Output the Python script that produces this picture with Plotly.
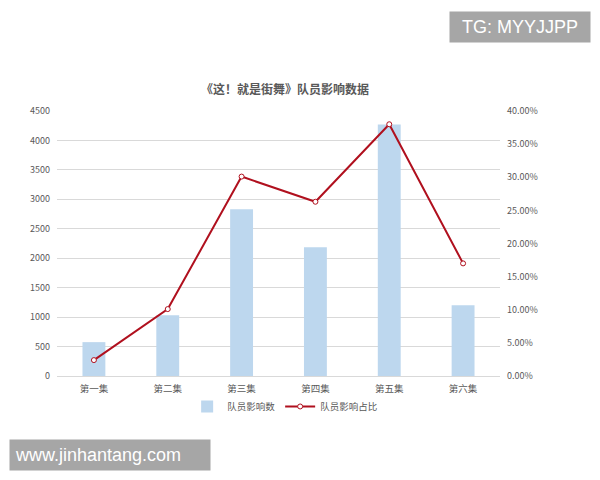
import plotly.graph_objects as go

categories = ["第一集", "第二集", "第三集", "第四集", "第五集", "第六集"]
influence_counts = [575, 1030, 2830, 2185, 4270, 1200]
influence_share = [0.024, 0.101, 0.301, 0.263, 0.380, 0.170]
left_ticks = [0, 500, 1000, 1500, 2000, 2500, 3000, 3500, 4000, 4500]
right_ticks = [0, 0.05, 0.10, 0.15, 0.20, 0.25, 0.30, 0.35, 0.40]

FONT = "Noto Sans CJK SC"
TXT = "#595959"

fig = go.Figure()
fig.add_trace(go.Bar(
    x=categories, y=influence_counts, name="队员影响数",
    marker=dict(color="#BDD7EE", line=dict(width=0)),
    yaxis="y",
))
fig.add_trace(go.Scatter(
    x=categories, y=influence_share, name="队员影响占比",
    mode="lines+markers",
    line=dict(color="#B0101E", width=2),
    marker=dict(symbol="circle", size=5, color="white",
                line=dict(color="#B0101E", width=1)),
    yaxis="y2",
))

fig.update_layout(
    width=592, height=472,
    paper_bgcolor="white", plot_bgcolor="white",
    margin=dict(l=49, r=100, t=103, b=104),
    bargap=0.69,
    font=dict(family=FONT, color=TXT, size=9),
    title=dict(text="《这！就是街舞》队员影响数据",
               font=dict(family=FONT, size=12, color=TXT, weight="bold"),
               x=277 / 592, xanchor="center", y=1 - 82 / 472, yanchor="middle",
               xref="container", yref="container"),
    xaxis=dict(showgrid=False, showline=True, linecolor="#D9D9D9", linewidth=1,
               ticks="", tickfont=dict(size=9.5, color=TXT), fixedrange=True,
               ticklabelstandoff=4),
    yaxis=dict(range=[0, 4500], tickvals=left_ticks, showgrid=True,
               gridcolor="#D9D9D9", gridwidth=1, zeroline=False,
               showline=False, ticks="", tickfont=dict(size=9, color=TXT),
               ticklabelstandoff=6),
    yaxis2=dict(range=[0, 0.40], tickvals=right_ticks, tickformat=".2%",
                overlaying="y", side="right", showgrid=False, zeroline=False,
                showline=False, ticks="", tickfont=dict(size=9, color=TXT),
                ticklabelstandoff=6),
    legend=dict(orientation="h", x=0.515, xanchor="center",
                y=-0.115, yanchor="middle",
                font=dict(size=9.5, color=TXT), itemwidth=30,
                bgcolor="rgba(0,0,0,0)"),
    showlegend=True,
)

fig.add_annotation(
    text="TG: MYYJJPP", xref="paper", yref="paper",
    x=(520 - 57) / 443, y=(376 - 27) / 265, xanchor="center", yanchor="middle",
    showarrow=False, font=dict(family="Liberation Sans", size=18, color="white"),
    bgcolor="#A6A6A6", borderpad=5, width=130,
)
fig.add_annotation(
    text="www.jinhantang.com", xref="paper", yref="paper",
    x=(110 - 57) / 443, y=(376 - 455) / 265, xanchor="center", yanchor="middle",
    showarrow=False, font=dict(family="Liberation Sans", size=18, color="white"),
    bgcolor="#A6A6A6", borderpad=5, width=190, align="left",
)

fig.write_html("out.html")
